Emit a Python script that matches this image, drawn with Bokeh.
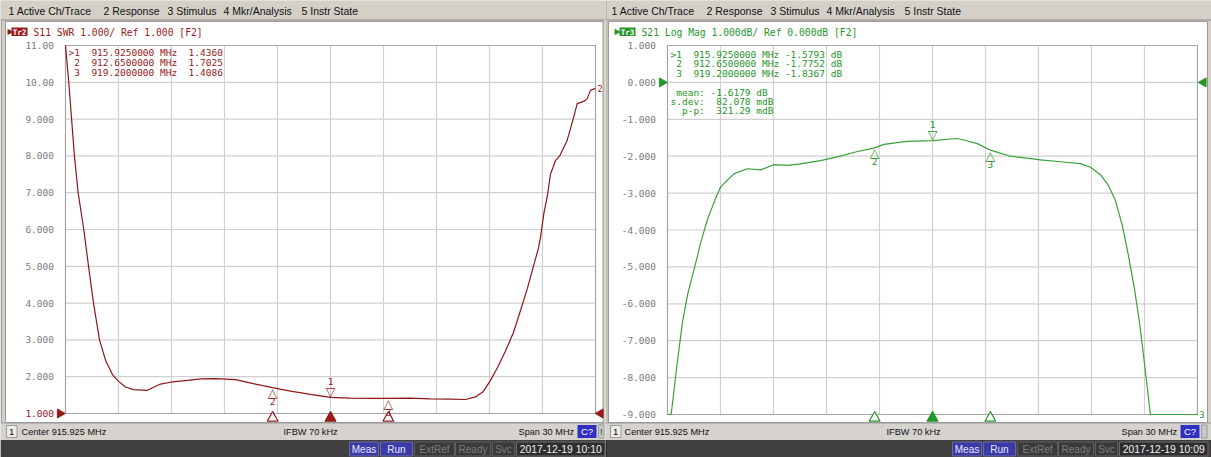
import numpy as np
from bokeh.plotting import figure
from bokeh.models import Range1d
from bokeh.layouts import row
from bokeh.embed import file_html
from bokeh.resources import INLINE
from bokeh.core.properties import value

# ---------------- data ----------------
CENTER_MHZ = 915.925
SPAN_MHZ = 30.0
N_DIV = 10
FREQ_START = CENTER_MHZ - SPAN_MHZ / 2
freq_grid = [FREQ_START + SPAN_MHZ * i / N_DIV for i in range(N_DIV + 1)]

# S11 SWR trace (left screen)
s11_freq = [900.925, 901.11, 901.43, 901.64, 901.96, 902.23, 902.51, 902.85, 903.19, 903.59,
            903.92, 904.32, 904.77, 905.56, 906.30, 906.87, 907.83, 908.57, 909.42, 910.55,
            911.68, 912.65, 913.66, 914.79, 915.925, 917.06, 918.19, 919.20, 920.45, 921.58,
            922.72, 923.57, 924.13, 924.58, 924.98, 925.38, 925.83, 926.28, 926.68, 927.07,
            927.41, 927.70, 927.81, 928.00, 928.19, 928.38, 928.66, 928.90, 929.32, 929.66,
            929.89, 930.26, 930.45, 930.64, 930.925]
s11_swr = [11.00, 10.00, 8.00, 7.00, 6.00, 5.00, 4.00, 3.00, 2.45, 2.05,
           1.88, 1.72, 1.65, 1.63, 1.80, 1.85, 1.90, 1.94, 1.95, 1.92,
           1.80, 1.7025, 1.61, 1.52, 1.436, 1.42, 1.41, 1.4086, 1.42, 1.40,
           1.39, 1.38, 1.45, 1.60, 1.90, 2.25, 2.70, 3.20, 3.80, 4.40,
           5.00, 5.50, 5.78, 6.43, 6.88, 7.51, 7.87, 8.00, 8.42, 9.00,
           9.42, 9.48, 9.55, 9.78, 9.84]
s11_ticks = [11, 10, 9, 8, 7, 6, 5, 4, 3, 2, 1]
s11_tick_labels = ["11.00", "10.00", "9.000", "8.000", "7.000", "6.000",
                   "5.000", "4.000", "3.000", "2.000", "1.000"]
s11_ref = 1.0

marker_ids = ["1", "2", "3"]
marker_freq = [915.925, 912.65, 919.2]
s11_marker_val = [1.4360, 1.7025, 1.4086]

# S21 Log Mag trace (right screen)
s21_freq = [900.925, 901.13, 901.47, 901.76, 902.07, 902.51, 902.79, 903.17, 903.64, 903.925,
            904.68, 905.44, 906.19, 906.94, 907.70, 908.45, 909.58, 910.72, 911.62, 912.65,
            913.17, 914.49, 915.925, 917.32, 917.70, 918.46, 919.20, 920.34, 920.91, 922.04,
            923.17, 924.30, 924.87, 925.43, 925.89, 926.28, 926.68, 927.02, 927.36, 927.64,
            927.87, 928.04, 928.26, 930.925]
s21_db = [-9.00, -9.00, -7.63, -6.54, -5.73, -4.92, -4.37, -3.74, -3.15, -2.84,
          -2.48, -2.34, -2.37, -2.23, -2.25, -2.21, -2.12, -2.00, -1.88, -1.7752,
          -1.68, -1.60, -1.5793, -1.52, -1.56, -1.66, -1.8367, -2.00, -2.03, -2.10,
          -2.15, -2.20, -2.30, -2.50, -2.80, -3.20, -3.90, -4.70, -5.60, -6.50,
          -7.40, -8.10, -9.00, -9.00]
s21_ticks = [1, 0, -1, -2, -3, -4, -5, -6, -7, -8, -9]
s21_tick_labels = ["1.000", "0.000", "-1.000", "-2.000", "-3.000", "-4.000",
                   "-5.000", "-6.000", "-7.000", "-8.000", "-9.000"]
s21_ref = 0.0
s21_marker_val = [-1.5793, -1.7752, -1.8367]
s21_stat_names = ["mean", "s.dev", "p-p"]
s21_stat_vals = ["-1.6179", "82.078", "321.29"]
s21_stat_units = ["dB", "mdB", "mdB"]

menu_items = ["1 Active Ch/Trace", "2 Response", "3 Stimulus", "4 Mkr/Analysis", "5 Instr State"]
menu_x = [8, 103, 167, 223, 301]
status_center = "Center 915.925 MHz"
status_ifbw = "IFBW 70 kHz"
status_span = "Span 30 MHz"
buttons = ["Meas", "Run", "ExtRef", "Ready", "Svc"]
button_x = [(349, 378), (380, 412), (414, 454), (455, 490), (492, 514)]
stamps = ["2017-12-19 10:10", "2017-12-19 10:09"]

# ---------------- styling ----------------
H = 457
TOP, BOT = 0, 457
GREY = "#d4d0c8"
STATUS = "#d6d3ce"
DARK = "#404040"
GRID = "#d0d0d0"
BORDER = "#a4a4a4"
TICK_GREY = "#7c7c7c"
MONO = value("DejaVu Sans Mono")
UI = value("Liberation Sans")
SYM = value("DejaVu Sans")


def px_box(p, l, r, t, b, fill, line=None, lw=1):
    p.quad(left=[l], right=[r], top=[t], bottom=[b], fill_color=fill,
           line_color=line, line_width=lw, x_range_name="px", y_range_name="px")


def px_line(p, x0, y0, x1, y1, color, lw=1):
    p.segment(x0=[x0], y0=[y0], x1=[x1], y1=[y1], line_color=color, line_width=lw,
              x_range_name="px", y_range_name="px")


def put_text(p, x, y, t, color, size, font, align="left", baseline="middle",
             xr="px", yr="px", style="normal", yo=0):
    p.text(x=x, y=y, text=t, text_color=color, text_font_size=size, text_font=font,
           text_align=align, text_baseline=baseline, text_font_style=style,
           y_offset=yo, x_range_name=xr, y_range_name=yr)


def panel(x0, x1, grat, ticks, tick_labels, ref_val, freq, vals, mvals,
          trace_col, text_col, tag, header, side, stamp, end_label):
    gl, gr, gt, gb = grat
    off = 0 if side == "L" else 603
    kx = SPAN_MHZ / (gr - gl)
    ky = (ticks[0] - ticks[-1]) / (gb - gt)
    p = figure(width=x1 - x0, height=H,
               x_range=Range1d(FREQ_START - (gl - x0) * kx, FREQ_START + (x1 - gl) * kx),
               y_range=Range1d(ticks[-1] - (BOT - gb) * ky, ticks[0] + (gt - TOP) * ky),
               output_backend="svg", toolbar_location=None, min_border=0,
               x_axis_location=None, y_axis_location=None, title=None)
    p.extra_x_ranges = {"px": Range1d(x0, x1)}
    p.extra_y_ranges = {"px": Range1d(BOT, TOP)}
    p.background_fill_color = GREY
    p.border_fill_color = GREY
    p.outline_line_color = None
    p.grid.visible = False

    sl, sr = (5, 602.5) if side == "L" else (608, 1207)

    # ---- window chrome ----
    px_box(p, x0, x1, TOP, 19, GREY)
    px_line(p, x0, 19.5, x1, 19.5, "#8a8a8a")
    px_box(p, sl, sr, 21, 422, "white", "#9a9a9a")
    px_box(p, x0, x1, 422.5, 439, STATUS)
    px_line(p, x0, 422.5, x1, 422.5, "#9a9a9a")
    px_box(p, x0, x1, 439.5, BOT, DARK)
    if side == "R":
        px_box(p, 605, 607.5, 20, 422, "#c4c0b8")
        px_line(p, 605.5, TOP, 605.5, 19, "#a0a0a0")
        px_line(p, 605.5, 439.5, 605.5, BOT, "#2a2a2a", 2)
    else:
        px_line(p, 1, 20, 1, 422, "#a0a0a0")

    # menu
    put_text(p, [m + off for m in menu_x], [10] * len(menu_items), menu_items,
             "#111111", "10.5px", UI)

    # header
    put_text(p, [7 + off + (4 if side == "R" else 0)], [31], ["\u25B6"], text_col, "8px", SYM)
    bl = 11 + off + (5 if side == "R" else 0)
    px_box(p, bl, bl + 16, 27, 35.5, text_col)
    put_text(p, [bl + 8], [31.5], [tag], "white", "7.5px", MONO, align="center", style="bold")
    put_text(p, [bl + 22], [31.5], [header], text_col, "9.7px", MONO)

    # ---- graticule ----
    inner = freq_grid[1:-1]
    p.segment(x0=inner, y0=[ticks[-1]] * len(inner), x1=inner, y1=[ticks[0]] * len(inner),
              line_color=GRID, line_width=1.2)
    p.segment(x0=[freq_grid[0]] * (len(ticks) - 2), y0=ticks[1:-1],
              x1=[freq_grid[-1]] * (len(ticks) - 2), y1=ticks[1:-1],
              line_color=GRID, line_width=1.2)
    p.quad(left=[freq_grid[0]], right=[freq_grid[-1]], top=[ticks[0]], bottom=[ticks[-1]],
           fill_color=None, line_color=BORDER, line_width=1.2)

    # y labels
    lab_cols = [text_col if (t == ref_val and side == "L") else TICK_GREY for t in ticks]
    put_text(p, [gl - 11.5] * len(ticks), ticks, tick_labels, lab_cols, "9.5px", MONO,
             align="right", xr="px", yr="default")

    # trace
    p.line(freq, vals, line_color=trace_col, line_width=1.2)

    # reference level arrows
    p.scatter(x=[gl - 5.5], y=[ref_val], x_range_name="px", marker="triangle",
              angle=-np.pi / 2, size=9, fill_color=text_col, line_color=text_col)
    p.scatter(x=[gr + 5 if side == "L" else gr + 6], y=[ref_val], x_range_name="px",
              marker="triangle", angle=np.pi / 2, size=9, fill_color=text_col,
              line_color=text_col)

    # stimulus markers under graticule
    p.scatter(x=marker_freq, y=[417.5] * 3, y_range_name="px", marker="triangle", size=11,
              fill_color=[text_col, "white", "white"], line_color=text_col, line_width=1.2)

    # on-trace markers
    put_text(p, [marker_freq[0]], [mvals[0]], ["\u25BD"], text_col, "12.5px", SYM,
             align="center", xr="default", yr="default", yo=-6)
    put_text(p, [marker_freq[0]], [mvals[0]], [marker_ids[0]], text_col, "9.5px", MONO,
             align="center", xr="default", yr="default", yo=-16)
    put_text(p, marker_freq[1:], mvals[1:], ["\u25B3"] * 2, text_col, "12.5px", SYM,
             align="center", xr="default", yr="default", yo=5)
    put_text(p, marker_freq[1:], mvals[1:], marker_ids[1:], text_col, "9.5px", MONO,
             align="center", xr="default", yr="default", yo=14)

    # end-of-trace label
    put_text(p, [gr + 2], [vals[-1]], [end_label], text_col,
             "8.5px", MONO, xr="px", yr="default")

    # marker readout
    cw = 5.72
    rx = gl + 3
    ids = [(">" if i == 0 else "") + m for i, m in enumerate(marker_ids)]
    ys = [52, 62, 71.5] if side == "L" else [53.5, 63, 72.5]
    put_text(p, [rx + 2 * cw] * 3, ys, ids, text_col, "9.5px", MONO, align="right")
    put_text(p, [rx + 4 * cw] * 3, ys, ["%.7f MHz" % f for f in marker_freq], text_col,
             "9.5px", MONO)
    put_text(p, [rx + 27 * cw] * 3, ys, ["%.4f" % v for v in mvals], text_col, "9.5px",
             MONO, align="right")
    if side == "R":
        put_text(p, [rx + 28 * cw] * 3, ys, ["dB"] * 3, text_col, "9.5px", MONO)
        sy = [91.5, 100.5, 109.5]
        put_text(p, [rx + 6 * cw] * 3, sy, [n + ":" for n in s21_stat_names], text_col,
                 "9.5px", MONO, align="right")
        put_text(p, [rx + 14 * cw] * 3, sy, s21_stat_vals, text_col, "9.5px", MONO,
                 align="right")
        put_text(p, [rx + 15 * cw] * 3, sy, s21_stat_units, text_col, "9.5px", MONO)

    # ---- status bar ----
    sb = 6 + off + (1 if side == "R" else 0)
    px_box(p, sb, sb + 10.5, 425, 437, "#ecebe8", "#9a9a9a")
    put_text(p, [sb + 5.25], [431], ["1"], "#111111", "9.5px", UI, align="center")
    put_text(p, [21 + off], [431], [status_center], "#111111", "9.2px", UI)
    put_text(p, [283 + off], [431], [status_ifbw], "#111111", "9.2px", UI)
    put_text(p, [518 + off], [431], [status_span], "#111111", "9.2px", UI)
    px_box(p, 577 + off, 596 + off, 424.5, 437.5, "#2f2fc0")
    put_text(p, [586.5 + off], [431], ["C?"], "white", "9.5px", UI, align="center")
    px_box(p, 598 + off, 603.5 + off, 424.5, 437.5, "#c8c8c8", "#9a9a9a")
    if side == "L":
        put_text(p, [600.75], [431], ["!"], "#333333", "9px", UI, align="center")

    # ---- dark bar ----
    for (a, b), name in zip(button_x, buttons):
        active = name in ("Meas", "Run")
        px_box(p, a + off, b + off, 441.5, 455.5, "#3a3aa8" if active else "#3a3a3a",
               "#6a6a9a" if active else "#5c5c5c")
        put_text(p, [(a + b) / 2 + off], [448.5], [name],
                 "#e8e8ff" if active else "#7c7c7c", "10px", UI, align="center")
    px_box(p, 516 + off, 604.5 + off, 441.5, 455.5, "#2e2e2e", "#6a6a6a")
    put_text(p, [560.25 + off], [448.5], [stamp], "#eeeeee", "10.4px", UI, align="center")
    return p


pL = panel(0, 605, (65, 595, 45, 413), s11_ticks, s11_tick_labels, s11_ref,
           s11_freq, s11_swr, s11_marker_val, "#8e1616", "#9a1a1a", "Tr2",
           "S11 SWR 1.000/ Ref 1.000 [F2]", "L", stamps[0], "2")
pR = panel(605, 1211, (667, 1197, 45, 414), s21_ticks, s21_tick_labels, s21_ref,
           s21_freq, s21_db, s21_marker_val, "#38a238", "#26962a", "Tr3",
           "S21 Log Mag 1.000dB/ Ref 0.000dB [F2]", "R", stamps[1], "3")

layout = row(pL, pR)
open("out.html", "w").write(file_html(layout, INLINE))
